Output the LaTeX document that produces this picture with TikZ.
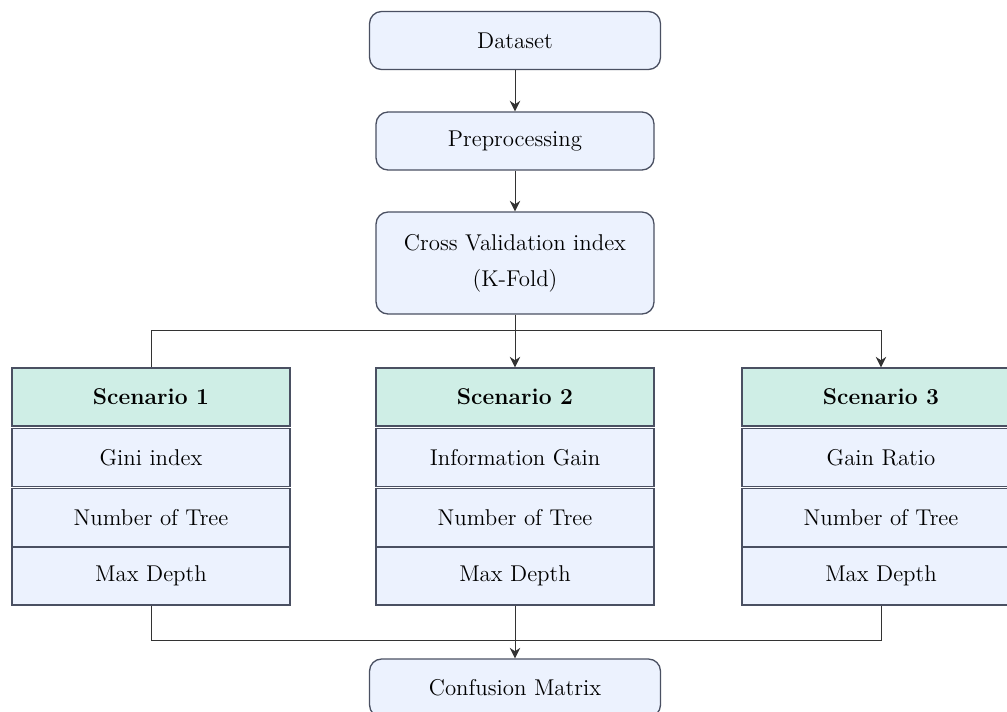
\documentclass[tikz,border=0pt]{standalone}
\usepackage{tikz}
\usetikzlibrary{arrows.meta,positioning,calc}
\definecolor{boxFill}{RGB}{236,242,254}
\definecolor{headFill}{RGB}{207,238,230}
\definecolor{boxLine}{RGB}{74,80,98}
\definecolor{linkCol}{RGB}{51,51,51}

\begin{document}
\begin{tikzpicture}[x=0.02cm, y=-0.02cm,
    every node/.style={font=\fontsize{13}{17}\selectfont},
    roundbox/.style={draw=boxLine, line width=0.75pt, fill=boxFill, rounded corners=0.24cm,
      minimum width=5.56cm, minimum height=1.16cm, align=center},
    headbox/.style={draw=boxLine, line width=0.75pt, fill=headFill,
      minimum width=5.56cm, minimum height=1.16cm, font=\fontsize{13}{17}\selectfont\bfseries},
    rowbox/.style={draw=boxLine, line width=0.75pt, fill=boxFill,
      minimum width=5.56cm, minimum height=1.16cm},
    link/.style={draw=linkCol, line width=0.55pt},
    >={Stealth[length=6pt,width=6pt]}]
    \useasboundingbox (0,0) rectangle (1007,711);
    % Top chain
    \node[roundbox, minimum width=5.82cm] (data) at (515,40.5) {Dataset};
    \node[roundbox] (prep) at (515,141) {Preprocessing};
    \node[roundbox, minimum height=2.04cm, font=\fontsize{13}{20.5}\selectfont] (cv) at (515,263)
      {Cross Validation index\\(K-Fold)};
    \draw[link,->] (data) -- (prep);
    \draw[link,->] (prep) -- (cv);
    % Scenarios
    \foreach \i/\x/\crit in {1/151/Gini index, 2/515/Information Gain, 3/881/Gain Ratio} {
      \node[headbox] (s\i) at (\x,397) {Scenario \i};
      \node[rowbox] (s\i a) at (\x,457.5) {\crit};
      \node[rowbox] (s\i b) at (\x,517.5) {Number of Tree};
      \node[rowbox] (s\i c) at (\x,576) {Max Depth};
    }
    % Split
    \coordinate (split) at (515,330);
    \draw[link] (cv) -- (split);
    \draw[link] (split) -| (s1);
    \draw[link,->] (split) -- (s2);
    \draw[link,->] (split) -| (s3);
    % Join
    \node[roundbox, minimum width=5.82cm] (cm) at (515,688) {Confusion Matrix};
    \coordinate (join) at (515,640);
    \draw[link] (s1c) |- (join) -| (s3c);
    \draw[link,->] (s2c) -- (cm);
  \end{tikzpicture}
\end{document}
